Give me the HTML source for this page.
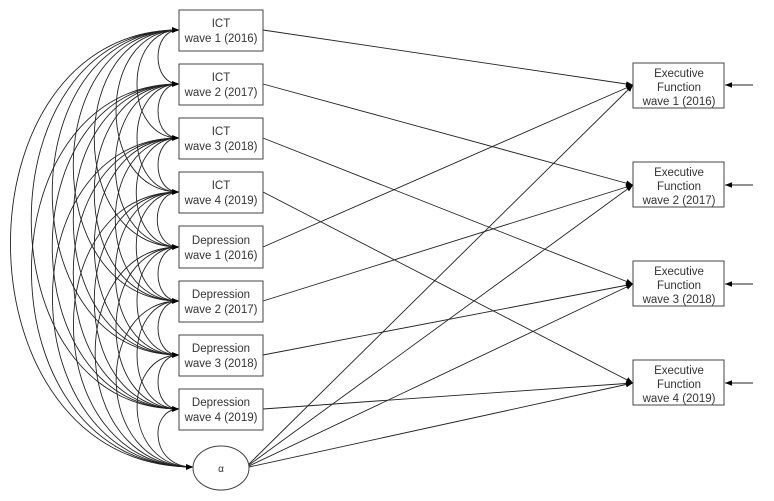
<!DOCTYPE html>
<html><head><meta charset="utf-8"><style>
html,body{margin:0;padding:0;background:#fff}
svg{display:block}
text{font-family:"Liberation Sans",sans-serif;font-size:11.5px;fill:#333;text-anchor:middle}
</style></head><body>
<svg width="774" height="501" viewBox="0 0 774 501" xmlns="http://www.w3.org/2000/svg">
<defs>
<marker id="a" viewBox="0 0 10 10" refX="10" refY="5" markerWidth="7" markerHeight="7" markerUnits="userSpaceOnUse" orient="auto-start-reverse"><path d="M0,1 L10,5 L0,9 z" fill="#000"/></marker>
</defs>
<g fill="none" stroke="#222" stroke-width="0.9" marker-start="url(#a)" marker-end="url(#a)">
<path d="M179 30 C151 30,151 84,179 84"/>
<path d="M179 30 C123 30,123 138,179 138"/>
<path d="M179 30 C95 30,95 192,179 192"/>
<path d="M179 30 C66 30,66 247,179 247"/>
<path d="M179 30 C38 30,38 301,179 301"/>
<path d="M179 30 C10 30,10 355,179 355"/>
<path d="M179 30 C-18 30,-18 409,179 409"/>
<path d="M179 30 C-48 30,-48 467,193 467"/>
<path d="M179 84 C151 84,151 138,179 138"/>
<path d="M179 84 C123 84,123 192,179 192"/>
<path d="M179 84 C94 84,94 247,179 247"/>
<path d="M179 84 C66 84,66 301,179 301"/>
<path d="M179 84 C38 84,38 355,179 355"/>
<path d="M179 84 C10 84,10 409,179 409"/>
<path d="M179 84 C-20 84,-20 467,193 467"/>
<path d="M179 138 C151 138,151 192,179 192"/>
<path d="M179 138 C122 138,122 247,179 247"/>
<path d="M179 138 C94 138,94 301,179 301"/>
<path d="M179 138 C66 138,66 355,179 355"/>
<path d="M179 138 C38 138,38 409,179 409"/>
<path d="M179 138 C8 138,8 467,193 467"/>
<path d="M179 192 C150 192,150 247,179 247"/>
<path d="M179 192 C122 192,122 301,179 301"/>
<path d="M179 192 C94 192,94 355,179 355"/>
<path d="M179 192 C66 192,66 409,179 409"/>
<path d="M179 192 C36 192,36 467,193 467"/>
<path d="M179 247 C151 247,151 301,179 301"/>
<path d="M179 247 C123 247,123 355,179 355"/>
<path d="M179 247 C95 247,95 409,179 409"/>
<path d="M179 247 C65 247,65 467,193 467"/>
<path d="M179 301 C151 301,151 355,179 355"/>
<path d="M179 301 C123 301,123 409,179 409"/>
<path d="M179 301 C93 301,93 467,193 467"/>
<path d="M179 355 C151 355,151 409,179 409"/>
<path d="M179 355 C121 355,121 467,193 467"/>
<path d="M179 409 C149 409,149 467,193 467"/>
</g>
<g stroke="#222" stroke-width="0.9" marker-end="url(#a)">
<line x1="263" y1="30" x2="633" y2="85"/>
<line x1="263" y1="84" x2="633" y2="185"/>
<line x1="263" y1="138" x2="633" y2="284"/>
<line x1="263" y1="192" x2="633" y2="383"/>
<line x1="263" y1="247" x2="633" y2="85"/>
<line x1="263" y1="301" x2="633" y2="185"/>
<line x1="263" y1="355" x2="633" y2="284"/>
<line x1="263" y1="409" x2="633" y2="383"/>
<line x1="249" y1="464" x2="633" y2="85"/>
<line x1="249" y1="465" x2="633" y2="185"/>
<line x1="249" y1="466" x2="633" y2="284"/>
<line x1="249" y1="467" x2="633" y2="383"/>
<line x1="753" y1="85" x2="725" y2="85"/>
<line x1="753" y1="185" x2="725" y2="185"/>
<line x1="753" y1="284" x2="725" y2="284"/>
<line x1="753" y1="383" x2="725" y2="383"/>
</g>
<g fill="#fff" stroke="#444" stroke-width="1">
<rect x="179" y="10" width="84" height="41"/>
<rect x="179" y="64" width="84" height="41"/>
<rect x="179" y="118" width="84" height="41"/>
<rect x="179" y="172" width="84" height="41"/>
<rect x="179" y="226" width="84" height="42"/>
<rect x="179" y="281" width="84" height="41"/>
<rect x="179" y="335" width="84" height="41"/>
<rect x="179" y="389" width="84" height="41"/>
<ellipse cx="221" cy="468" rx="28" ry="22"/>
<rect x="633" y="63" width="91" height="45"/>
<rect x="633" y="162" width="91" height="45"/>
<rect x="633" y="261" width="91" height="45"/>
<rect x="633" y="360" width="91" height="45"/>
</g>
<g>
<text x="221" y="27">ICT</text><text x="221" y="42">wave 1 (2016)</text>
<text x="221" y="81">ICT</text><text x="221" y="96">wave 2 (2017)</text>
<text x="221" y="135">ICT</text><text x="221" y="150">wave 3 (2018)</text>
<text x="221" y="189">ICT</text><text x="221" y="204">wave 4 (2019)</text>
<text x="221" y="244">Depression</text><text x="221" y="259">wave 1 (2016)</text>
<text x="221" y="298">Depression</text><text x="221" y="313">wave 2 (2017)</text>
<text x="221" y="352">Depression</text><text x="221" y="367">wave 3 (2018)</text>
<text x="221" y="406">Depression</text><text x="221" y="421">wave 4 (2019)</text>
<text x="221" y="472" style="font-size:10px">α</text>
<text x="679" y="77">Executive</text><text x="679" y="91">Function</text><text x="679" y="105">wave 1 (2016)</text>
<text x="679" y="176">Executive</text><text x="679" y="190">Function</text><text x="679" y="204">wave 2 (2017)</text>
<text x="679" y="275">Executive</text><text x="679" y="289">Function</text><text x="679" y="303">wave 3 (2018)</text>
<text x="679" y="374">Executive</text><text x="679" y="388">Function</text><text x="679" y="402">wave 4 (2019)</text>
</g>
</svg>
</body></html>
